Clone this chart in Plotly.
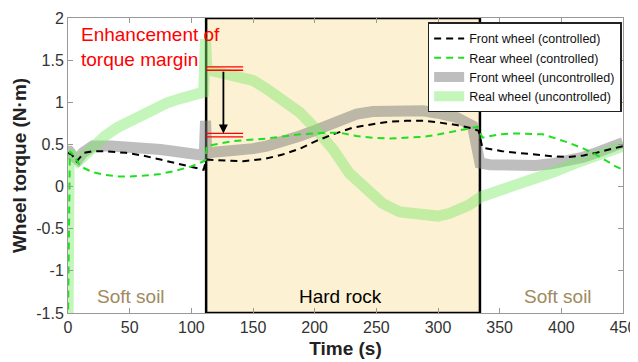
import plotly.graph_objects as go

# ---------------- data ----------------
t_front_ctrl = [0, 3, 7, 13, 20, 30, 47, 60, 75, 90, 104, 110, 112, 125, 142, 160, 174, 188, 201, 215,
                231, 247, 260, 274, 288, 301, 315, 328, 333, 336, 352, 365, 379, 392, 406, 418, 428, 440, 450]
v_front_ctrl = [0.40, 0.38, 0.30, 0.40, 0.42, 0.42, 0.40, 0.37, 0.32, 0.27, 0.22, 0.20, 0.32, 0.31, 0.30, 0.33,
                0.38, 0.45, 0.54, 0.62, 0.70, 0.74, 0.77, 0.78, 0.78, 0.76, 0.73, 0.69, 0.66, 0.46, 0.42, 0.40,
                0.38, 0.36, 0.35, 0.37, 0.40, 0.44, 0.48]

t_rear_ctrl = [0, 1.5, 5, 10, 20, 30, 40, 50, 62, 75, 88, 100, 110, 111.5, 112.5, 134, 161, 188, 209, 220,
               234, 247, 261, 274, 288, 301, 315, 328, 332, 336, 350, 363, 385, 406, 418, 428, 444, 450]
v_rear_ctrl = [-1.6, 0.42, 0.36, 0.24, 0.17, 0.14, 0.12, 0.12, 0.13, 0.15, 0.19, 0.24, 0.30, 0.32, 0.48, 0.54,
               0.57, 0.62, 0.64, 0.64, 0.60, 0.58, 0.57, 0.58, 0.59, 0.62, 0.66, 0.70, 0.71, 0.58, 0.62, 0.63,
               0.62, 0.52, 0.45, 0.38, 0.24, 0.20]

t_front_unc = [0, 1, 4, 8, 12, 20, 35, 50, 75, 90, 107, 110.5, 111.5, 112.5, 120, 134, 150, 161, 175, 188,
               201, 215, 234, 247, 258, 270, 288, 300, 315, 328, 334, 342, 360, 379, 392, 406, 418, 428, 440, 450]
v_front_unc = [0.42, 0.42, 0.36, 0.32, 0.40, 0.48, 0.48, 0.47, 0.44, 0.41, 0.38, 0.37, 0.78, 0.40, 0.41, 0.42,
               0.45, 0.48, 0.53, 0.60, 0.67, 0.74, 0.86, 0.89, 0.90, 0.91, 0.90, 0.87, 0.82, 0.72, 0.28, 0.26,
               0.25, 0.25, 0.27, 0.30, 0.35, 0.40, 0.46, 0.52]

t_rear_unc = [0, 1, 4, 8, 12, 20, 30, 40, 50, 60, 70, 80, 90, 100, 110, 111.5, 112.5, 115, 125, 134, 150, 161,
              175, 188, 201, 215, 228, 242, 255, 269, 288, 300, 309, 318, 325, 335, 344, 360, 375, 393, 410,
              425, 440, 450]
v_rear_unc = [-1.6, 0.42, 0.36, 0.30, 0.35, 0.47, 0.60, 0.70, 0.78, 0.86, 0.93, 0.99, 1.04, 1.08, 1.12, 1.75,
              1.42, 1.38, 1.35, 1.32, 1.26, 1.16, 1.02, 0.88, 0.68, 0.44, 0.16, -0.04, -0.20, -0.30, -0.35,
              -0.35, -0.32, -0.27, -0.22, -0.12, -0.08, 0.00, 0.08, 0.17, 0.27, 0.35, 0.43, 0.48]

hard_rock_span = [112, 334]
margin_levels = [1.40, 0.61]
margin_span = [112, 142]
arrow_t = 126

x_ticks = [0, 50, 100, 150, 200, 250, 300, 350, 400, 450]
y_ticks = [-1.5, -1, -0.5, 0, 0.5, 1, 1.5, 2]
y_tick_labels = ["-1.5", "-1", "-0.5", "0", "0.5", "1", "1.5", "2"]

FONT = "Arial, Liberation Sans, sans-serif"

fig = go.Figure()

fig.add_trace(go.Scatter(x=t_front_unc, y=v_front_unc, mode="lines", name="Front wheel (uncontrolled)",
                         line=dict(color="rgba(125,125,125,0.5)", width=11), legendrank=3))
fig.add_trace(go.Scatter(x=t_rear_unc, y=v_rear_unc, mode="lines", name="Real wheel (uncontrolled)",
                         line=dict(color="rgba(125,232,105,0.45)", width=11), legendrank=4))
fig.add_trace(go.Scatter(x=t_front_ctrl, y=v_front_ctrl, mode="lines", name="Front wheel (controlled)",
                         line=dict(color="black", width=2, dash="7px,5px"), legendrank=1))
fig.add_trace(go.Scatter(x=t_rear_ctrl, y=v_rear_ctrl, mode="lines", name="Rear wheel (controlled)",
                         line=dict(color="#1ee01e", width=2, dash="7px,5px"), legendrank=2))

# hard rock region
fig.add_shape(type="rect", x0=hard_rock_span[0], x1=hard_rock_span[1], y0=-1.5, y1=2,
              xref="x", yref="y", fillcolor="#fdf1d3", line=dict(color="black", width=2.5), layer="below")

# torque margin markers (double red lines)
for lev in margin_levels:
    for off in (-0.02, 0.02):
        fig.add_shape(type="line", x0=margin_span[0], x1=margin_span[1], y0=lev + off, y1=lev + off,
                      xref="x", yref="y", line=dict(color="red", width=1.3))

fig.add_annotation(x=arrow_t, y=margin_levels[1] + 0.02, ax=arrow_t, ay=margin_levels[0] - 0.02,
                   xref="x", yref="y", axref="x", ayref="y", showarrow=True, arrowhead=2,
                   arrowsize=1, arrowwidth=1.8, arrowcolor="black", text="")

fig.add_annotation(x=9, y=1.95, xref="x", yref="y", xanchor="left", yanchor="top", align="left",
                   text="Enhancement of<br>torque margin", showarrow=False,
                   font=dict(family=FONT, size=19, color="red"))
fig.add_annotation(x=51, y=-1.3, xref="x", yref="y", text="Soft soil", showarrow=False,
                   font=dict(family=FONT, size=19, color="#a08a5e"))
fig.add_annotation(x=397, y=-1.3, xref="x", yref="y", text="Soft soil", showarrow=False,
                   font=dict(family=FONT, size=19, color="#a08a5e"))
fig.add_annotation(x=221, y=-1.3, xref="x", yref="y", text="Hard rock", showarrow=False,
                   font=dict(family=FONT, size=19, color="black"))

fig.update_layout(
    width=630, height=354,
    margin=dict(l=60, r=15, t=10, b=49, autoexpand=False),
    paper_bgcolor="white", plot_bgcolor="white",
    font=dict(family=FONT, size=16, color="#333"),
    legend=dict(x=0.648, y=0.985, xanchor="left", yanchor="top", bgcolor="white",
                bordercolor="#222", borderwidth=1.5, font=dict(family=FONT, size=12.5, color="#111"),
                itemwidth=30, tracegroupgap=0),
    showlegend=True,
)
fig.update_xaxes(range=[0, 450], tickvals=x_ticks, ticks="inside", ticklen=5, tickcolor="#999",
                 showline=True, linecolor="#999", linewidth=1, mirror="ticks", showgrid=False, zeroline=False,
                 automargin=False,
                 title=dict(text="<b>Time (s)</b>", font=dict(family=FONT, size=19, color="#222"), standoff=6))
fig.update_yaxes(range=[-1.5, 2], tickvals=y_ticks, ticktext=y_tick_labels, ticks="inside", ticklen=5,
                 tickcolor="#999", showline=True, linecolor="#999", linewidth=1, mirror="ticks",
                 showgrid=False, zeroline=False, automargin=False,
                 title=dict(text="<b>Wheel torque (N·m)</b>", font=dict(family=FONT, size=19, color="#222"),
                            standoff=4))

fig.write_html("out.html")
